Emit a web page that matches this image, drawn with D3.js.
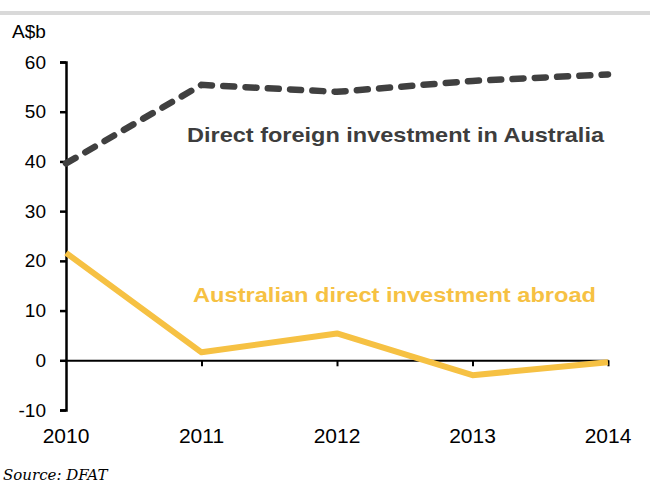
<!DOCTYPE html>
<html><head><meta charset="utf-8">
<script src="https://cdn.jsdelivr.net/npm/d3@7"></script>
<style>body{margin:0;background:#fff;} svg{display:block;}</style>
</head><body>
<script>
const years = [2010, 2011, 2012, 2013, 2014];
const foreignInAustralia = [39.6, 55.4, 54.0, 56.2, 57.5];
const australianAbroad = [21.6, 1.6, 5.4, -3.0, -0.4];
const yTicks = [-10, 0, 10, 20, 30, 40, 50, 60];
const unitLabel = "A$b";
const seriesLabels = ["Direct foreign investment in Australia", "Australian direct investment abroad"];
const sourceText = "Source: DFAT";

const W = 650, H = 487;
const FONT = "Liberation Sans, Arial, sans-serif";
const svg = d3.select("body").append("svg").attr("width", W).attr("height", H);

svg.append("rect").attr("x", 0).attr("y", 11).attr("width", W).attr("height", 4).attr("fill", "#d9d9d9");

const x = d3.scaleLinear().domain([2010, 2014]).range([66, 608]);
const y = d3.scaleLinear().domain([-10, 60]).range([410, 62]);

// y axis
const yAxis = svg.append("g").attr("transform", `translate(${x(2010)},0)`)
  .call(d3.axisLeft(y).tickValues(yTicks).tickFormat(d => String(d)).tickSize(6).tickPadding(14));
yAxis.select(".domain").attr("stroke", "#000").attr("stroke-width", 2.5);
yAxis.selectAll(".tick line").attr("stroke", "#000").attr("stroke-width", 2.5);
yAxis.selectAll(".tick text").attr("font-family", FONT).attr("font-size", 19).attr("fill", "#000");

// x axis at zero
const xAxis = svg.append("g").attr("transform", `translate(0,${y(0)})`)
  .call(d3.axisBottom(x).tickValues(years.slice(1)).tickFormat("").tickSize(6).tickSizeOuter(0));
xAxis.select(".domain").attr("stroke", "#000").attr("stroke-width", 2);
xAxis.selectAll(".tick line").attr("stroke", "#000").attr("stroke-width", 2);

// year labels
svg.append("g").selectAll("text").data(years).join("text")
  .attr("x", d => x(d)).attr("y", 443)
  .attr("text-anchor", "middle")
  .attr("font-family", FONT).attr("font-size", 21)
  .attr("fill", "#000").text(d => d);

svg.append("text").attr("x", 12).attr("y", 38)
  .attr("font-family", FONT).attr("font-size", 19)
  .attr("fill", "#000").text(unitLabel);

const line = d3.line().x((d, i) => x(years[i])).y(d => y(d));

svg.append("path").datum(australianAbroad).attr("d", line)
  .attr("fill", "none").attr("stroke", "#f6c143").attr("stroke-width", 6)
  .attr("stroke-linejoin", "round");

svg.append("path").datum(foreignInAustralia).attr("d", line)
  .attr("fill", "none").attr("stroke", "#404040").attr("stroke-width", 6.5)
  .attr("stroke-dasharray", "11,11.3").attr("stroke-linecap", "round");

svg.append("text").attr("x", 187).attr("y", 142)
  .attr("font-family", FONT).attr("font-weight", "bold")
  .attr("font-size", 21).attr("fill", "#3d3d3d")
  .attr("textLength", 417).attr("lengthAdjust", "spacingAndGlyphs")
  .text(seriesLabels[0]);

svg.append("text").attr("x", 193).attr("y", 302)
  .attr("font-family", FONT).attr("font-weight", "bold")
  .attr("font-size", 21).attr("fill", "#f6c143")
  .attr("textLength", 403).attr("lengthAdjust", "spacingAndGlyphs")
  .text(seriesLabels[1]);

svg.append("text").attr("x", 3).attr("y", 480)
  .attr("font-family", "DejaVu Serif, Liberation Serif, serif").attr("font-style", "italic")
  .attr("font-size", 15).attr("fill", "#000").text(sourceText);
</script>
</body></html>
